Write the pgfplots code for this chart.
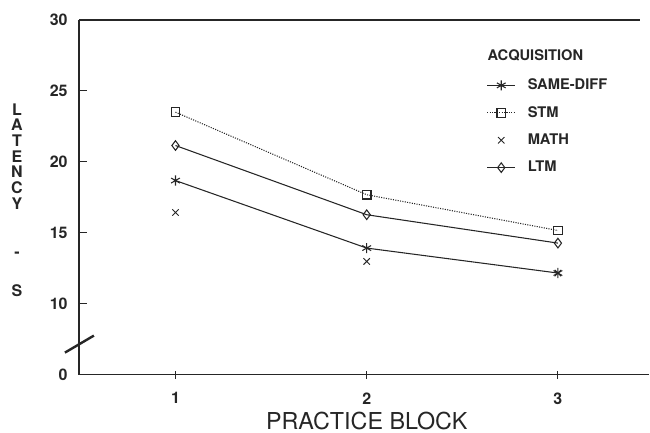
\documentclass[border=0pt]{standalone}
\usepackage{fontspec}
\setmainfont{TeX Gyre Heros}
\usepackage{pgfplots}
\pgfplotsset{compat=1.18}
\definecolor{ink}{gray}{0.15}
\begin{document}
\begin{tikzpicture}
\begin{axis}[
  name=ax,
  scale only axis, width=428.25pt, height=266.25pt,
  xmin=0.495, xmax=3.478, ymin=5, ymax=30,
  axis x line=bottom, axis y line=left,
  axis line style={-, line width=1pt, ink},
  xtick={1,2,3}, xticklabels={1,2,3},
  ytick={5,10,15,20,25,30}, yticklabels={0,10,15,20,25,30},
  xtick align=center, ytick align=inside,
  major tick length=6pt,
  tick style={line width=0.7pt, ink},
  /pgf/number format/assume math mode=true,
  tick label style={font=\bfseries\fontsize{12}{14}\selectfont, text=ink},
  yticklabel style={xshift=-5pt},
  xticklabel style={yshift=-7pt},
  clip=false,
  legend cell align=left,
  legend image code/.code={\draw[mark repeat=2,mark phase=2,#1] plot coordinates {(0pt,0pt)(10.5pt,0pt)(21pt,0pt)};},
  legend style={draw=none, fill=none, inner sep=0pt, anchor=north west,
    at={(rel axis cs:0.7145,0.842)}, row sep=7pt, column sep=7pt,
    font=\bfseries\fontsize{11}{13}\selectfont, text=ink,
    nodes={inner sep=2pt}},
]
\addplot[ink, line width=0.8pt, mark=asterisk, mark size=3.8pt]
  coordinates {(1,18.68) (2,13.92) (3,12.16)};
\addlegendentry{SAME-DIFF}
\addplot[ink, line width=0.8pt, densely dotted, mark=square, mark size=3.2pt, mark options={solid}]
  coordinates {(1,23.5) (2,17.68) (3,15.16)};
\addlegendentry{STM}
\addplot[ink, only marks, mark=x, mark size=3.4pt, line width=0.7pt]
  coordinates {(1,16.43) (2,12.98) (3,12.16)};
\addlegendentry{MATH}
\addplot[ink, line width=0.8pt, mark=diamond, mark size=3.6pt]
  coordinates {(1,21.15) (2,16.27) (3,14.27)};
\addlegendentry{LTM}
% top frame line
\draw[ink, line width=1pt] (axis cs:0.495,30) -- (axis cs:3.43,30);
% axis break
\draw[ink, line width=1.8pt] ([xshift=-10.5pt]axis cs:0.495,6.55) -- ([xshift=11.25pt]axis cs:0.495,7.75);
% legend title
\node[anchor=base west, inner sep=0pt, font=\bfseries\fontsize{11}{13}\selectfont, text=ink]
  at (rel axis cs:0.716,0.885) {ACQUISITION};
% y label
\node[anchor=center, inner sep=0pt, text=ink, font=\bfseries\fontsize{12}{10}\selectfont]
  at ([xshift=-46.5pt]rel axis cs:0,0.487)
  {\begin{tabular}{@{}c@{}}L\\A\\T\\E\\N\\C\\Y\\[26pt]-\\[17.4pt]S\end{tabular}};
% x label
\node[anchor=base, inner sep=0pt, text=ink, font=\fontsize{17.5}{20}\selectfont]
  at ([yshift=-41pt]axis cs:2,5) {PRACTICE BLOCK};
\end{axis}
\path (ax.south west) ++(-59.25pt,-43.5pt);
\path (ax.north east) ++(0pt,15pt);
\end{tikzpicture}
\end{document}
